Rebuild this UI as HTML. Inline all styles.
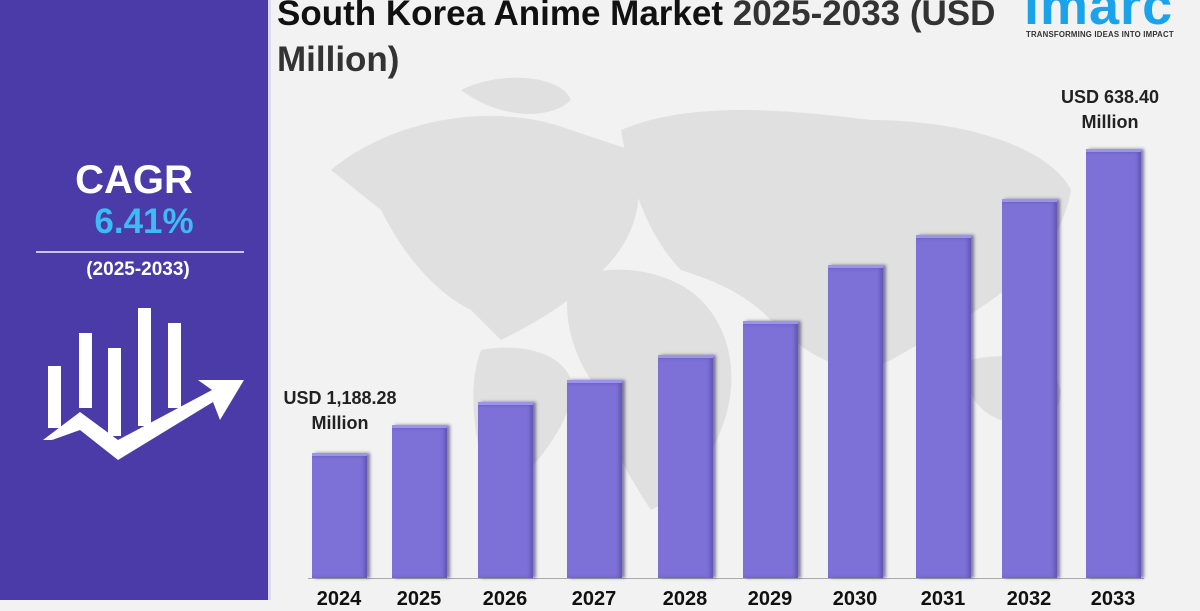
<!DOCTYPE html>
<html><head><meta charset="utf-8"><style>
body{margin:0;width:1200px;height:600px;overflow:hidden;background:#f2f2f2;font-family:"Liberation Sans",sans-serif;position:relative}
.abs{position:absolute}
.bar{position:absolute;bottom:22px;width:55px;background:#7d71d8;border-top:3px solid #9c93ea;box-shadow:3px 0 3px rgba(40,30,90,.55),inset -3px 0 3px rgba(50,40,120,.35);box-sizing:border-box}
.yr{position:absolute;top:588px;width:80px;text-align:center;font-weight:bold;font-size:20px;color:#111}
.lbl{position:absolute;font-weight:bold;font-size:18px;color:#222;text-align:center;line-height:25px}
</style></head><body>
<div class="abs" style="left:0;top:0;width:268px;height:600px;background:#4a3ba9"></div>
<div class="abs" style="left:268px;top:0;width:3px;height:600px;background:#dcdcea"></div>
<div class="abs" style="left:0;width:268px;top:158px;text-align:center;color:#fff;font-weight:bold;font-size:40px">CAGR</div>
<div class="abs" style="left:10px;width:268px;top:202px;text-align:center;color:#3dbcf4;font-weight:bold;font-size:35px">6.41%</div>
<div class="abs" style="left:36px;top:251px;width:208px;height:2px;background:#c9c4ec"></div>
<div class="abs" style="left:0;width:276px;top:259px;text-align:center;color:#fff;font-weight:bold;font-size:19px">(2025-2033)</div>
<svg class="abs" style="left:0;top:0" width="268" height="600">
<g fill="#fff">
<rect x="48" y="366" width="13" height="62"/><rect x="79" y="333" width="13" height="75"/><rect x="108" y="348" width="13" height="88"/><rect x="138" y="308" width="13" height="118"/><rect x="168" y="323" width="13" height="85"/>
<polygon points="43,440 80,412 118,440 212,390 198,380 244,380 220,420 213,402 118,460 80,430 52,440"/>
</g></svg>
<svg class="abs" style="left:271px;top:60px" width="929" height="520">
<g fill="#e0e0e0">
<path d="M60,110 C120,60 220,40 300,70 L360,90 C380,140 360,190 320,220 C290,250 250,270 230,280 L200,250 C160,230 130,190 110,150 Z"/>
<path d="M210,290 C260,280 310,300 300,340 C290,380 250,420 230,440 L215,420 C205,380 195,330 210,290Z"/>
<path d="M350,70 C420,40 520,50 600,60 C700,60 780,90 800,130 C790,190 740,230 690,260 L620,300 C580,320 540,300 500,260 C470,230 440,220 410,210 C380,180 360,130 350,70Z"/>
<path d="M300,220 C340,200 400,210 430,240 C460,270 470,320 450,370 C430,420 400,440 380,450 C360,420 330,370 320,320 C300,290 290,250 300,220Z"/>
<path d="M700,300 C740,290 780,300 790,330 C790,360 760,370 730,360 C700,350 690,320 700,300Z"/>
<path d="M190,30 C230,10 290,15 300,40 C280,60 230,60 190,30Z"/>
</g></svg>
<div class="abs" style="left:277px;top:-9px;font-weight:bold;font-size:35px;color:#111;line-height:46px;white-space:nowrap">South Korea Anime Market <span style="color:#333">2025-2033 (USD</span><br><span style="color:#333">Million)</span></div>
<div class="abs" style="left:1024px;top:-25px;font-weight:bold;font-size:54px;color:#1aa3ea;letter-spacing:1px">imarc</div>
<div class="abs" style="left:1026px;top:30px;font-weight:bold;font-size:7.8px;color:#333;letter-spacing:.2px;white-space:nowrap">TRANSFORMING IDEAS INTO IMPACT</div>
<div class="abs" style="left:308px;top:578px;width:836px;height:1px;background:#aaa"></div>
<div class="bar" style="left:312px;height:125px"></div>
<div class="bar" style="left:392px;height:153px"></div>
<div class="bar" style="left:478px;height:176px"></div>
<div class="bar" style="left:567px;height:198px"></div>
<div class="bar" style="left:658px;height:223px"></div>
<div class="bar" style="left:743px;height:257px"></div>
<div class="bar" style="left:828px;height:313px"></div>
<div class="bar" style="left:916px;height:343px"></div>
<div class="bar" style="left:1002px;height:379px"></div>
<div class="bar" style="left:1086px;height:429px"></div>
<div class="yr" style="left:299px">2024</div><div class="yr" style="left:379px">2025</div><div class="yr" style="left:465px">2026</div><div class="yr" style="left:554px">2027</div><div class="yr" style="left:645px">2028</div><div class="yr" style="left:730px">2029</div><div class="yr" style="left:815px">2030</div><div class="yr" style="left:903px">2031</div><div class="yr" style="left:989px">2032</div><div class="yr" style="left:1073px">2033</div>
<div class="lbl" style="left:270px;top:386px;width:140px">USD 1,188.28<br>Million</div>
<div class="lbl" style="left:1040px;top:85px;width:140px">USD 638.40<br>Million</div>
</body></html>
